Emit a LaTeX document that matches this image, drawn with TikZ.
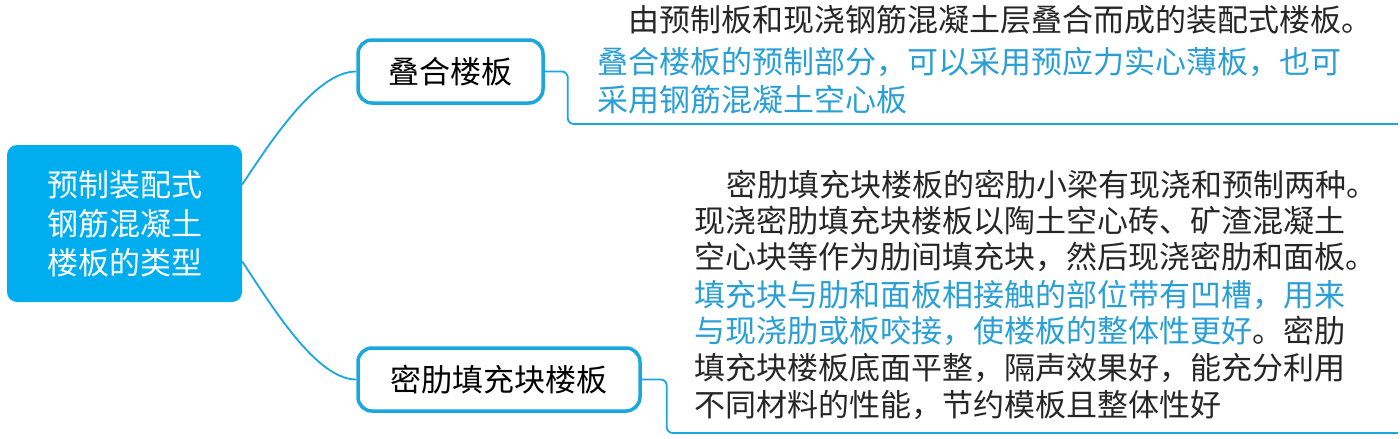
\documentclass[tikz,border=0pt]{standalone}
\usepackage{fontspec}
\setmainfont{Noto Sans CJK SC}
\definecolor{cy}{HTML}{00AEEF}
\definecolor{ln}{HTML}{1AA7DF}
\definecolor{tx}{HTML}{2A9FD6}
\tikzset{
  mainbox/.style={fill=cy, rounded corners=10pt, minimum width=235pt, minimum height=157pt,
    text=white, align=center, inner sep=0pt, font=\fontsize{31}{39}\selectfont},
  subbox/.style={draw=ln, line width=3.5pt, rounded corners=14pt, fill=white,
    minimum height=63pt, inner sep=0pt, font=\fontsize{31}{31}\selectfont},
  conn/.style={draw=ln, line width=1.8pt},
  body/.style={anchor=base west, inner sep=0pt, font=\fontsize{31}{31}\selectfont, text=black!85},
  blue/.style={body, text=tx}
}
\begin{document}
\begin{tikzpicture}[x=1pt,y=-1pt]
\useasboundingbox (0,0) rectangle (1400,439);
\node[mainbox] (main) at (124.5,223.5) {预制装配式\\钢筋混凝土\\楼板的类型};
\node[subbox, minimum width=185pt] (b1) at (450.5,71.5) {叠合楼板};
\node[subbox, minimum width=282pt] (b2) at (499,379.5) {密肋填充块楼板};

\coordinate (e1) at (1398,124);
\coordinate (e2) at (1398,433);

\draw[conn] ([yshift=39pt]main.east) .. controls ++(30,-45) and ++(-40,0) .. (b1.west);
\draw[conn] ([yshift=-38pt]main.east) .. controls ++(30,45) and ++(-40,0) .. (b2.west);
\draw[conn, rounded corners=6pt] (b1.east) -- ++(23,0) |- (e1);
\draw[conn, rounded corners=6pt] (b2.east) -- ++(25,0) |- (e2);

\node[body] (p1a) at (628,31) {由预制板和现浇钢筋混凝土层叠合而成的装配式楼板。};
\node[blue] (p1b) at (597,73) {叠合楼板的预制部分，可以采用预应力实心薄板，也可};
\node[blue] (p1c) at (597,111) {采用钢筋混凝土空心板};

\node[body] (p2a) at (726,196) {密肋填充块楼板的密肋小梁有现浇和预制两种。};
\node[body] (p2b) at (694,232) {现浇密肋填充块楼板以陶土空心砖、矿渣混凝土};
\node[body] (p2c) at (694,268) {空心块等作为肋间填充块，然后现浇密肋和面板。};
\node[blue] (p2d) at (694,306) {填充块与肋和面板相接触的部位带有凹槽，用来};
\node[body] (p2e) at (694,342) {{\color{tx}与现浇肋或板咬接，使楼板的整体性更好}。密肋};
\node[body] (p2f) at (694,379) {填充块楼板底面平整，隔声效果好，能充分利用};
\node[body] (p2g) at (694,416) {不同材料的性能，节约模板且整体性好};
\end{tikzpicture}
\end{document}
